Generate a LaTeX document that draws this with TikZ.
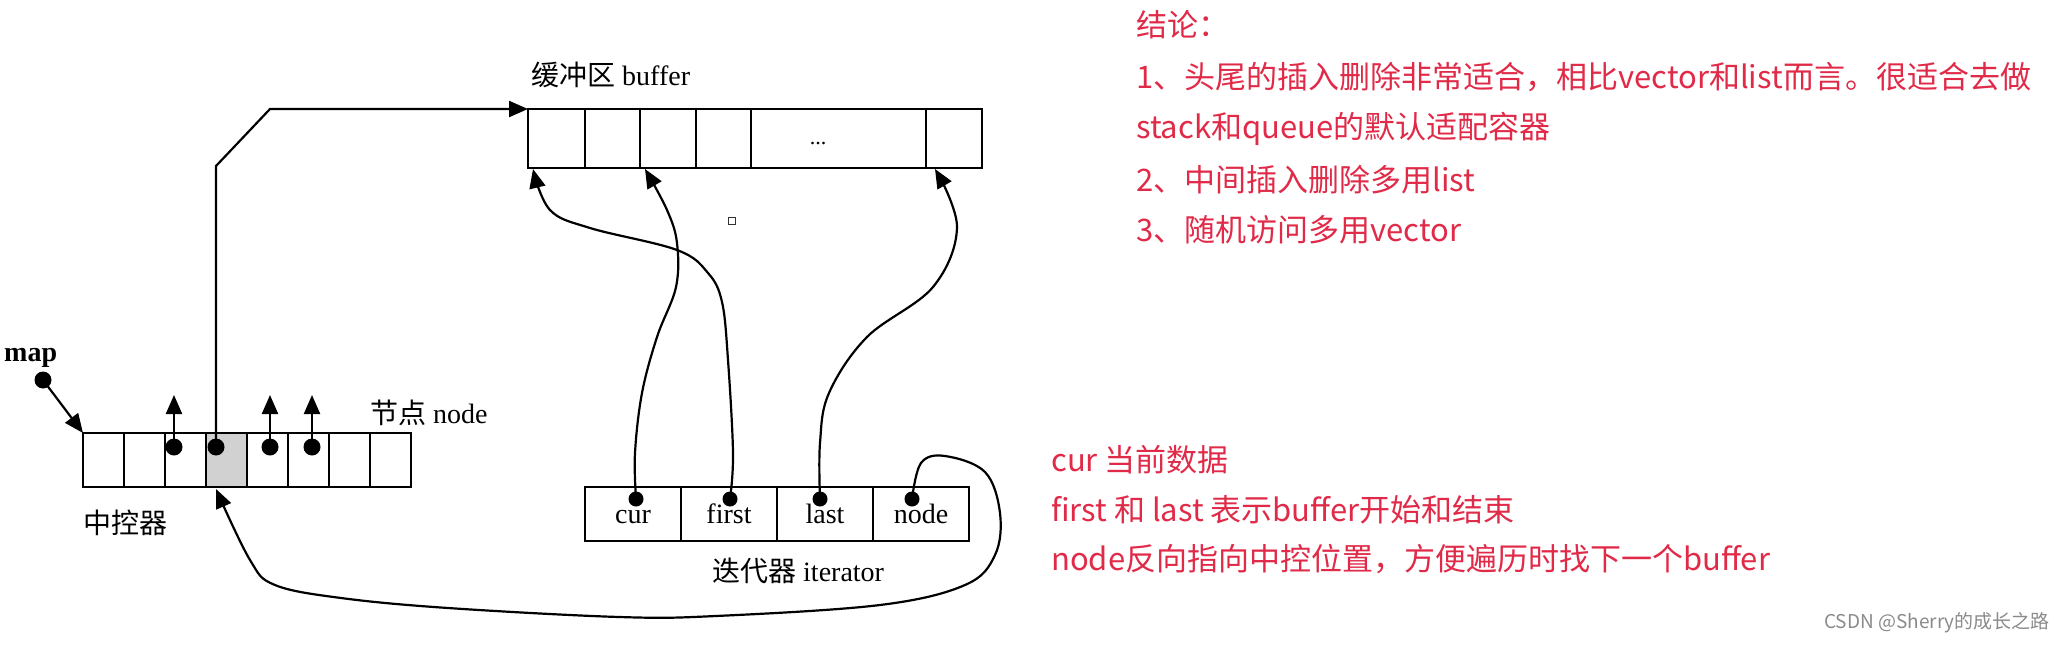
\documentclass[tikz,border=0pt]{standalone}
\usepackage{fontspec}
\setmainfont{Liberation Serif}
\newfontfamily\cjk{Noto Sans CJK SC}
\usetikzlibrary{arrows.meta,calc}
\definecolor{notered}{HTML}{E02A48}
\definecolor{wmgray}{HTML}{8A8A8A}
\begin{document}
\begin{tikzpicture}[x=1pt,y=-1pt,
  cell/.style={draw, line width=2.2pt, inner sep=0pt, outer sep=0pt, anchor=north west},
  arr/.style={line width=2.2pt, -{Triangle[length=19pt,width=16pt]}},
  lbl/.style={font=\fontsize{28pt}{30pt}\selectfont, inner sep=0pt, anchor=west},
  celltxt/.style={font=\fontsize{28pt}{30pt}\selectfont, text height=19pt, text depth=0pt},
  note/.style={font=\cjk\fontsize{31pt}{34pt}\selectfont, text=notered, inner sep=0pt, anchor=west},
  dotfill/.style={fill=black}
]
\useasboundingbox (0,0) rectangle (2066,650);

% ---- map (central controller) ----
\foreach \i/\f in {1/white,2/white,3/white,4/black!18,5/white,6/white,7/white,8/white}
  \node[cell, fill=\f, minimum width=41pt, minimum height=54pt] (m\i) at ({83+41*(\i-1)},433) {};

% ---- buffer ----
\node[cell, minimum width=57pt, minimum height=59pt] (b1) at (528,109) {};
\node[cell, minimum width=55pt, minimum height=59pt] (b2) at (585,109) {};
\node[cell, minimum width=56pt, minimum height=59pt] (b3) at (640,109) {};
\node[cell, minimum width=55pt, minimum height=59pt] (b4) at (696,109) {};
\node[cell, minimum width=175pt, minimum height=59pt] (b5) at (751,109) {};
\node[cell, minimum width=56pt, minimum height=59pt] (b6) at (926,109) {};
\node[font=\fontsize{22pt}{24pt}\selectfont, anchor=base] (dots) at (818,144) {...};

% ---- iterator ----
\node[cell, celltxt, minimum width=96pt, minimum height=54pt] (i1) at (585,487) {cur};
\node[cell, celltxt, minimum width=96pt, minimum height=54pt] (i2) at (681,487) {first};
\node[cell, celltxt, minimum width=96pt, minimum height=54pt] (i3) at (777,487) {last};
\node[cell, celltxt, minimum width=96pt, minimum height=54pt] (i4) at (873,487) {node};

% ---- labels ----
\node[lbl] (lbuf) at (531,75) {{\cjk 缓冲区} buffer};
\node[lbl] (lnode) at (370,413) {{\cjk 节点} node};
\node[lbl] (lmap) at (83,523) {\cjk 中控器};
\node[lbl] (liter) at (712,571) {{\cjk 迭代器} iterator};
\node[lbl, font=\bfseries\fontsize{28pt}{30pt}\selectfont] (mapt) at (4,358) {map};

% ---- small square ----
\node[draw, line width=1.2pt, black!80, minimum size=7pt, inner sep=0pt] (sq) at (732,221) {};

% ---- coordinates ----
\coordinate (mapdot) at (43,380);
\coordinate (d3) at (174,447);
\coordinate (d4) at (216,447);
\coordinate (d5) at (270,447);
\coordinate (d6) at (312,447);
\coordinate (u3) at (174,395);
\coordinate (u5) at (270,395);
\coordinate (u6) at (312,395);
\coordinate (c1) at (636,499);
\coordinate (c2) at (730,499);
\coordinate (c3) at (820,499);
\coordinate (c4) at (912,499);
\coordinate (t1) at (533,169);
\coordinate (t3) at (645,169);
\coordinate (t6) at (935,169);
\coordinate (t4) at (216,489);

% ---- dots ----
\foreach \p in {mapdot,d3,d4,d5,d6} \fill[dotfill] (\p) circle[radius=8.5pt];
\foreach \p in {c1,c2,c3,c4} \fill[dotfill] (\p) circle[radius=7.5pt];

% ---- connectors ----
\draw[arr] (mapdot) -- (m1.north west);
\draw[arr] (d3) -- (u3);
\draw[arr] (d5) -- (u5);
\draw[arr] (d6) -- (u6);
\draw[arr] (d4) -- (216,166) -- (270,109) -- (b1.north west);

\draw[arr] plot[smooth, tension=0.6] coordinates {(c1) (635,453) (642,393) (657,337) (676,287) (677,243) (667,210) (t3)};
\draw[arr] plot[smooth, tension=0.6] coordinates {(c2) (733,453) (728,360) (722,302) (708,273) (677,250) (590,228) (550,210) (t1)};
\draw[arr] plot[smooth, tension=0.6] coordinates {(c3) (820,443) (829,393) (867,337) (933,287) (957,227) (t6)};
\draw[arr] plot[smooth, tension=0.6] coordinates {(c4) (921,463) (945,456) (985,472) (1000,513) (995,555) (965,585) (880,605) (716,616) (619,617) (448,608) (341,598) (275,585) (250,560) (t4)};

% ---- notes ----
\node[note] (n0) at (1136,25) {结论：};
\node[note] (n1) at (1136,77) {1、头尾的插入删除非常适合，相比vector和list而言。很适合去做};
\node[note] (n2) at (1136,129) {stack和queue的默认适配容器};
\node[note] (n3) at (1136,180) {2、中间插入删除多用list};
\node[note] (n4) at (1136,230) {3、随机访问多用vector};
\node[note] (n5) at (1051,460) {cur 当前数据};
\node[note] (n6) at (1051,510) {first 和 last 表示buffer开始和结束};
\node[note] (n7) at (1051,559) {node反向指向中控位置，方便遍历时找下一个buffer};

\node[font=\cjk\fontsize{19pt}{21pt}\selectfont, text=wmgray, inner sep=0pt, anchor=east] (wm) at (2050,623) {CSDN @Sherry的成长之路};
\end{tikzpicture}
\end{document}
